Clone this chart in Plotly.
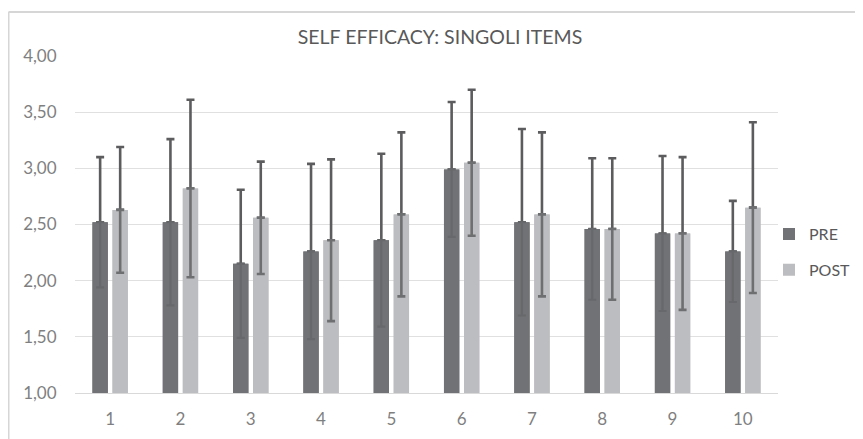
import plotly.graph_objects as go

categories = ["1", "2", "3", "4", "5", "6", "7", "8", "9", "10"]
pre_mean = [2.52, 2.52, 2.15, 2.26, 2.36, 2.99, 2.52, 2.46, 2.42, 2.26]
pre_sd = [0.58, 0.74, 0.66, 0.78, 0.77, 0.60, 0.83, 0.63, 0.69, 0.45]
post_mean = [2.63, 2.82, 2.56, 2.36, 2.59, 3.05, 2.59, 2.46, 2.42, 2.65]
post_sd = [0.56, 0.79, 0.50, 0.72, 0.73, 0.65, 0.73, 0.63, 0.68, 0.76]
y_ticks = [1.0, 1.5, 2.0, 2.5, 3.0, 3.5, 4.0]
y_tick_labels = ["1,00", "1,50", "2,00", "2,50", "3,00", "3,50", "4,00"]

PRE_COLOR = "#717275"
POST_COLOR = "#bcbdc0"
ERR_COLOR = "#5c5c5e"
FONT = "Lato"

# page has an 8px body margin, so the figure is 855x431 and shifted
W, H = 855, 431
PL, PR, PT, PB = 67, 770, 48, 385   # plot area in figure pixels
PW, PH = PR - PL, PB - PT

zeros = [0] * len(categories)

fig = go.Figure()
fig.add_trace(go.Bar(
    x=categories, y=pre_mean, name="PRE", offsetgroup="pre", legendgroup="pre",
    marker=dict(color=PRE_COLOR, line=dict(width=0)),
    error_y=dict(type="data", symmetric=False, array=pre_sd, arrayminus=zeros,
                 color=ERR_COLOR, thickness=2.6, width=4),
))
fig.add_trace(go.Bar(
    x=categories, y=post_mean, name="POST", offsetgroup="post", legendgroup="post",
    marker=dict(color=POST_COLOR, line=dict(width=0)),
    error_y=dict(type="data", symmetric=False, array=post_sd, arrayminus=zeros,
                 color=ERR_COLOR, thickness=2.6, width=4),
))
# overlay bars carrying faint lower error bars (seen through the bars)
fig.add_trace(go.Bar(
    x=categories, y=pre_mean, name="PRE", offsetgroup="pre", legendgroup="pre",
    showlegend=False, hoverinfo="skip",
    marker=dict(color=PRE_COLOR, line=dict(width=0)),
    error_y=dict(type="data", symmetric=False, array=zeros, arrayminus=pre_sd,
                 color="#67686b", thickness=2.2, width=4),
))
fig.add_trace(go.Bar(
    x=categories, y=post_mean, name="POST", offsetgroup="post", legendgroup="post",
    showlegend=False, hoverinfo="skip",
    marker=dict(color=POST_COLOR, line=dict(width=0)),
    error_y=dict(type="data", symmetric=False, array=zeros, arrayminus=post_sd,
                 color="#6e6f71", thickness=2.6, width=4),
))

fig.update_layout(
    width=W, height=H,
    margin=dict(l=PL, r=W - PR, t=PT, b=H - PB, autoexpand=False),
    paper_bgcolor="white", plot_bgcolor="white",
    barmode="group", bargap=0.43, bargroupgap=0.235,
    font=dict(family=FONT, color="#7f7f7f", size=17),
    title=dict(text="SELF EFFICACY: SINGOLI ITEMS", x=432 / W, xanchor="center",
               y=1 - 29 / H, yanchor="middle",
               font=dict(family=FONT, size=19.5, color="#595959")),
    legend=dict(x=(761 - PL) / PW, xanchor="left", y=0.418, yanchor="middle",
                font=dict(family=FONT, size=16, color="#595959"),
                tracegroupgap=12, bgcolor="rgba(0,0,0,0)",
                itemwidth=30),
    showlegend=True,
)
fig.update_xaxes(showgrid=False, showline=True, linecolor="#d9d9d9", linewidth=1,
                 automargin=False,
                 ticks="outside", ticklen=11, tickcolor="rgba(0,0,0,0)",
                 tickfont=dict(size=17, color="#7f7f7f"))
fig.update_yaxes(range=[1, 4], tickvals=y_ticks, ticktext=y_tick_labels,
                 automargin=False,
                 showgrid=True, gridcolor="#e0e0e0", gridwidth=1,
                 zeroline=False, showline=False,
                 ticks="outside", ticklen=14, tickcolor="rgba(0,0,0,0)",
                 tickfont=dict(size=17, color="#7f7f7f"))

# outer chart frame (top and left edges visible in reference)
fig.add_shape(type="line", xref="paper", yref="paper",
              x0=(0.5 - PL) / PW, x1=(W - PL) / PW,
              y0=(PB - 4) / PH, y1=(PB - 4) / PH,
              line=dict(color="#d6d6d6", width=2))
fig.add_shape(type="line", xref="paper", yref="paper",
              x0=(0.5 - PL) / PW, x1=(0.5 - PL) / PW,
              y0=(PB - 4) / PH, y1=(PB - H) / PH,
              line=dict(color="#d6d6d6", width=2))

fig.write_html("out.html")
